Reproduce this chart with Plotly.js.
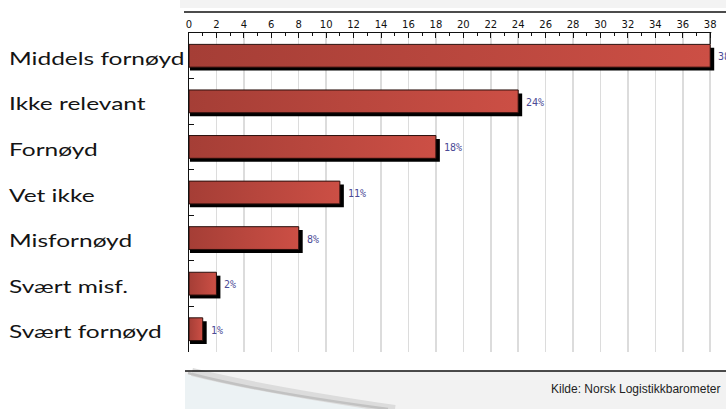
<!DOCTYPE html>
<html>
<head>
<meta charset="utf-8">
<script src="https://cdn.plot.ly/plotly-3.0.1.min.js"></script>
<style>
  html, body { margin: 0; padding: 0; background: #ffffff; }
  #chart { width: 726px; height: 409px; }
</style>
</head>
<body>
<div id="chart"></div>
<script>
// ---- data ----
const categories = ["Middels fornøyd", "Ikke relevant", "Fornøyd", "Vet ikke", "Misfornøyd", "Svært misf.", "Svært fornøyd"];
const values = [38, 24, 18, 11, 8, 2, 1];
const valueLabels = ["38%", "24%", "18%", "11%", "8%", "2%", "1%"];
const tickValues = [0, 2, 4, 6, 8, 10, 12, 14, 16, 18, 20, 22, 24, 26, 28, 30, 32, 34, 36, 38];
const minorTickValues = [1, 3, 5, 7, 9, 11, 13, 15, 17, 19, 21, 23, 25, 27, 29, 31, 33, 35, 37];
const sourceText = "Kilde: Norsk Logistikkbarometer";

// ---- geometry / styling ----
const W = 726, H = 409;
const M = { l: 189, r: 0, t: 33, b: 57 };
const PW = W - M.l - M.r, PH = H - M.t - M.b;
const XMAX = 39.15;
const SHADOW_DX = 0.22;
const LABEL_STRETCH = 1.36;
const px = x => (x - M.l) / PW;
const py = y => (H - M.b - y) / PH;
const dx = v => v / XMAX;

const shadow = {
  type: 'bar', orientation: 'h',
  y: categories,
  x: values.map(v => v + SHADOW_DX),
  base: 0.07,
  width: 0.5, offset: -0.25 + 0.075,
  marker: { color: '#000000', line: { width: 0 } },
  hoverinfo: 'skip', showlegend: false
};
const bars = {
  type: 'bar', orientation: 'h',
  y: categories, x: values,
  width: 0.5, offset: -0.25,
  marker: { color: '#b8473e', line: { width: 1, color: '#2a0f0c' } },
  showlegend: false
};

const annotations = [];
categories.forEach((c, i) => {
  annotations.push({
    xref: 'paper', yref: 'y', x: px(7), y: c, xanchor: 'left', yanchor: 'middle', align: 'left',
    text: c, showarrow: false, yshift: -2,
    font: { family: 'Lato, "Open Sans", sans-serif', size: 18, color: '#141414' }
  });
  annotations.push({
    xref: 'x', yref: 'y', x: values[i], y: c, xanchor: 'left', yanchor: 'middle',
    text: valueLabels[i], showarrow: false, xshift: 6, yshift: -1,
    font: { family: '"DejaVu Sans Mono", monospace', size: 10, color: '#4b4b96' }
  });
});
annotations.push({
  xref: 'paper', yref: 'paper', x: px(722), y: py(389), xanchor: 'right', yanchor: 'middle',
  text: sourceText, showarrow: false,
  font: { family: '"Liberation Sans", Arial, sans-serif', size: 12, color: '#222222' }
});

const shapes = [
  // light band at the very top
  { type: 'rect', xref: 'paper', yref: 'paper', x0: px(180), x1: px(726), y0: py(8), y1: py(0),
    fillcolor: '#f3f3f3', line: { width: 0 }, layer: 'above' },
  // top rule
  { type: 'line', xref: 'paper', yref: 'paper', x0: px(184), x1: px(726), y0: py(12), y1: py(12),
    line: { color: '#111111', width: 1.5 }, layer: 'above' },
  // hide the axis line beyond 38 so the ruler ends there
  { type: 'rect', xref: 'paper', yref: 'paper', x0: dx(38) + 0.002, x1: 1.01, y0: py(35), y1: py(31),
    fillcolor: '#ffffff', line: { width: 0 }, layer: 'above' },
  // ruler right end
  { type: 'line', xref: 'paper', yref: 'paper', x0: dx(38), x1: dx(38), y0: py(33), y1: py(44),
    line: { color: '#111111', width: 1.2 }, layer: 'above' },
  // footer area
  { type: 'rect', xref: 'paper', yref: 'paper', x0: px(185), x1: px(726), y0: py(409), y1: py(371),
    fillcolor: '#f2f2f2', line: { width: 0 }, layer: 'below' },
  { type: 'path', xref: 'paper', yref: 'paper', layer: 'below',
    path: `M ${px(185)} ${py(374)} Q ${px(262)} ${py(393)} ${px(390)} ${py(409)} L ${px(185)} ${py(409)} Z`,
    fillcolor: '#ecf2f4', line: { width: 0 } },
  { type: 'path', xref: 'paper', yref: 'paper', layer: 'below',
    path: `M ${px(192)} ${py(372)} Q ${px(265)} ${py(390)} ${px(395)} ${py(409)}`,
    line: { color: '#dcdcdc', width: 8 } },
  { type: 'path', xref: 'paper', yref: 'paper', layer: 'below',
    path: `M ${px(188)} ${py(373)} Q ${px(260)} ${py(392)} ${px(388)} ${py(409)}`,
    line: { color: '#c2c2c2', width: 2.5 } },
  { type: 'line', xref: 'paper', yref: 'paper', x0: px(185), x1: px(726), y0: py(371), y1: py(371),
    line: { color: '#111111', width: 1.6 }, layer: 'above' }
];

const layout = {
  width: W, height: H,
  margin: M,
  paper_bgcolor: '#ffffff', plot_bgcolor: '#ffffff',
  barmode: 'overlay',
  showlegend: false,
  xaxis: {
    side: 'top', range: [0, XMAX], fixedrange: true,
    tickmode: 'array', tickvals: tickValues, ticktext: tickValues.map(String),
    ticks: 'inside', ticklen: 5, tickcolor: '#111111', tickwidth: 1,
    minor: { tickmode: 'array', tickvals: minorTickValues, ticks: 'inside', ticklen: 3, tickcolor: '#111111', tickwidth: 1, showgrid: false },
    ticklabelstandoff: 0,
    tickfont: { family: '"DejaVu Sans", Verdana, sans-serif', size: 10, color: '#111111' },
    showgrid: true, gridcolor: '#dcdcdc', gridwidth: 1.5,
    showline: true, linecolor: '#111111', linewidth: 1.2,
    zeroline: false
  },
  yaxis: {
    type: 'category', categoryorder: 'array', categoryarray: categories,
    autorange: 'reversed', fixedrange: true,
    showticklabels: false, showgrid: false, zeroline: false,
    showline: true, linecolor: '#111111', linewidth: 1.5,
    ticks: 'inside', tickson: 'boundaries', ticklen: 5, tickcolor: '#111111', tickwidth: 1.2
  },
  shapes: shapes,
  annotations: annotations
};

Plotly.newPlot('chart', [shadow, bars], layout, { staticPlot: true, displayModeBar: false }).then(gd => {
  try {
    // horizontal gradient on each bar
    const svg = gd.querySelector('svg.main-svg');
    const ns = 'http://www.w3.org/2000/svg';
    let defs = svg.querySelector('defs');
    if (!defs) { defs = document.createElementNS(ns, 'defs'); svg.insertBefore(defs, svg.firstChild); }
    const grad = document.createElementNS(ns, 'linearGradient');
    grad.setAttribute('id', 'barGrad');
    grad.setAttribute('x1', '0'); grad.setAttribute('x2', '1');
    grad.setAttribute('y1', '0'); grad.setAttribute('y2', '0');
    [['0', '#a53e36'], ['1', '#cc4f45']].forEach(([o, c]) => {
      const s = document.createElementNS(ns, 'stop');
      s.setAttribute('offset', o); s.setAttribute('stop-color', c);
      grad.appendChild(s);
    });
    defs.appendChild(grad);
    const traces = gd.querySelectorAll('.barlayer .trace');
    const main = traces[traces.length - 1];
    main.querySelectorAll('.point path').forEach(p => { p.style.fill = 'url(#barGrad)'; });
  } catch (e) {}
  try {
    // widen the category labels (reference lettering is broad)
    gd.querySelectorAll('.annotation-text').forEach(t => {
      const txt = t.textContent;
      if (categories.indexOf(txt) >= 0) {
        const len = t.getComputedTextLength();
        t.setAttribute('textLength', (len * LABEL_STRETCH).toFixed(1));
        t.setAttribute('lengthAdjust', 'spacingAndGlyphs');
      }
    });
  } catch (e) {}
});
</script>
</body>
</html>
